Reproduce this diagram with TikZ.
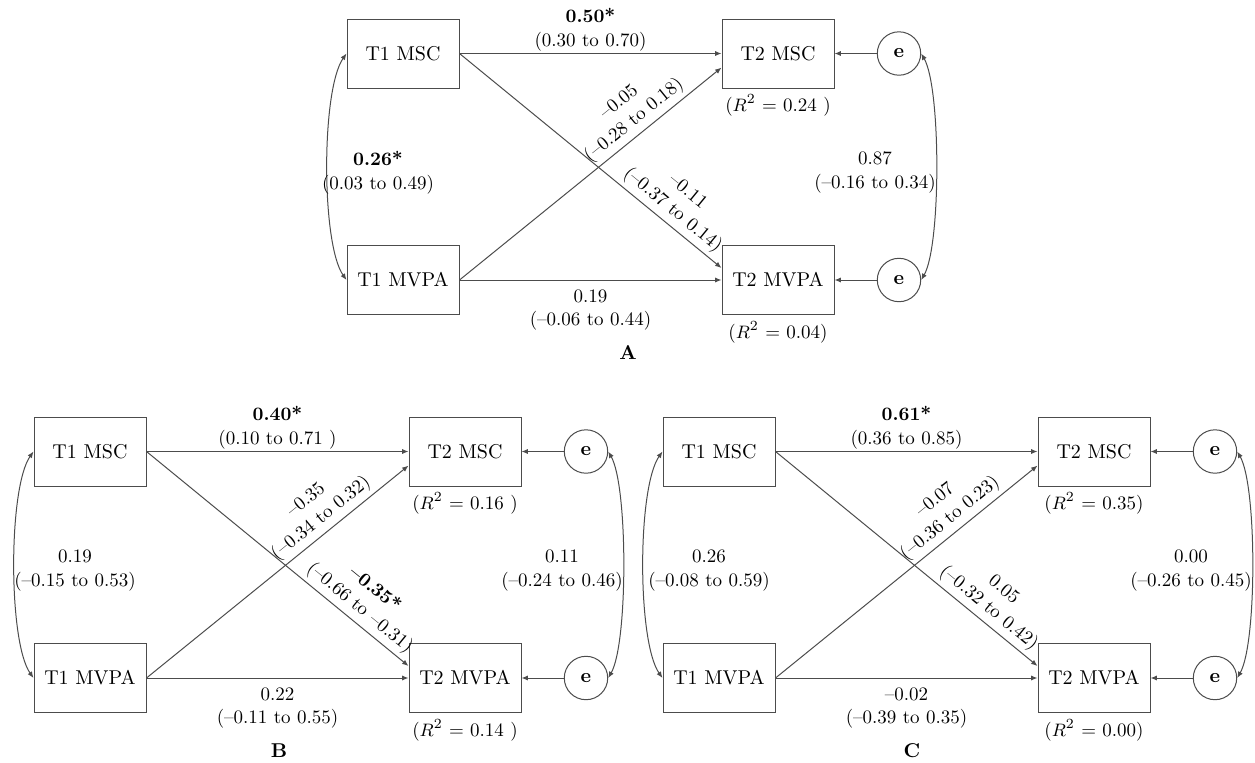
\documentclass[tikz,border=0pt]{standalone}
\usepackage{tikz}
\usetikzlibrary{positioning,arrows.meta}
\definecolor{linegray}{gray}{0.3}

\begin{document}
\begin{tikzpicture}[x=0.5pt, y=0.5pt,
  var/.style={draw=linegray, line width=0.5pt, minimum width=56pt, minimum height=34.5pt, inner sep=0pt, font=\fontsize{10}{12}\selectfont},
  err/.style={draw=linegray, line width=0.5pt, circle, minimum size=21.7pt, inner sep=0pt, font=\bfseries\fontsize{10}{12}\selectfont},
  arr/.style={-{Latex[length=3.2pt,width=2.6pt]}, draw=linegray, line width=0.5pt},
  cov/.style={{Latex[length=3.2pt,width=2.6pt]}-{Latex[length=3.2pt,width=2.6pt]}, draw=linegray, line width=0.5pt},
  lab/.style={font=\fontsize{9.5}{11.75}\selectfont, align=center, inner sep=0pt},
  rsq/.style={font=\fontsize{9.5}{12}\selectfont, inner sep=0pt},
  tag/.style={font=\bfseries\fontsize{10}{12}\selectfont}
]
\useasboundingbox (0,0) rectangle (1255,-762);

% panel A
\begin{scope}[shift={(403,-53.5)}]
\node[var] (amsc1) at (0,0) {T1 MSC};
\node[var] (amvpa1) at (0,-226.5) {T1 MVPA};
\node[var] (amsc2) at (375,0) {T2 MSC};
\node[var] (amvpa2) at (375,-226.5) {T2 MVPA};
\node[err] (ae1) at (496,0) {e};
\node[err] (ae2) at (496,-226.5) {e};
\node[rsq, below=3pt of amsc2] (ar1) {($R^2$ = 0.24 )};
\node[rsq, below=3pt of amvpa2] (ar2) {($R^2$ = 0.04)};

\draw[arr] (amsc1) -- node[lab, above=1pt] (alab1) {\textbf{0.50*}\\(0.30 to 0.70)} (amsc2);
\draw[arr] (amvpa1) -- node[lab, below=4.5pt] (alab2) {0.19\\(–0.06 to 0.44)} (amvpa2);
\draw[arr] (amvpa1.east) -- node[lab, sloped, pos=0.7, above=2pt] (alab3) {–0.05\\(–0.28 to 0.18)} (amsc2.194);
\draw[arr] (amsc1.east) -- node[lab, sloped, pos=0.78, above=2pt] (alab4) {–0.11\\(–0.37 to 0.14)} (amvpa2.168);
\draw[arr] (ae1) -- (amsc2);
\draw[arr] (ae2) -- (amvpa2);
\draw[cov] (amsc1.west) to[out=235, in=125, looseness=0.5] (amvpa1.west);
\draw[cov] (ae1.east) to[out=-60, in=60, looseness=0.45] (ae2.east);

\node[lab] (acov1) at (-25,-119) {\textbf{0.26*}\\(0.03 to 0.49)};
\node[lab] (acov2) at (472,-119) {0.87\\(–0.16 to 0.34)};
\node[tag] (atag) at (225,-299) {A};
\end{scope}

% panel B
\begin{scope}[shift={(90,-451.5)}]
\node[var] (bmsc1) at (0,0) {T1 MSC};
\node[var] (bmvpa1) at (0,-226.5) {T1 MVPA};
\node[var] (bmsc2) at (375,0) {T2 MSC};
\node[var] (bmvpa2) at (375,-226.5) {T2 MVPA};
\node[err] (be1) at (496,0) {e};
\node[err] (be2) at (496,-226.5) {e};
\node[rsq, below=3pt of bmsc2] (br1) {($R^2$ = 0.16 )};
\node[rsq, below=3pt of bmvpa2] (br2) {($R^2$ = 0.14 )};

\draw[arr] (bmsc1) -- node[lab, above=1pt] (blab1) {\textbf{0.40*}\\(0.10 to 0.71 )} (bmsc2);
\draw[arr] (bmvpa1) -- node[lab, below=4.5pt] (blab2) {0.22\\(–0.11 to 0.55)} (bmvpa2);
\draw[arr] (bmvpa1.east) -- node[lab, sloped, pos=0.7, above=2pt] (blab3) {–0.35\\(–0.34 to 0.32)} (bmsc2.194);
\draw[arr] (bmsc1.east) -- node[lab, sloped, pos=0.78, above=2pt] (blab4) {\textbf{–0.35*}\\(–0.66 to –0.31)} (bmvpa2.168);
\draw[arr] (be1) -- (bmsc2);
\draw[arr] (be2) -- (bmvpa2);
\draw[cov] (bmsc1.west) to[out=235, in=125, looseness=0.5] (bmvpa1.west);
\draw[cov] (be1.east) to[out=-60, in=60, looseness=0.45] (be2.east);

\node[lab] (bcov1) at (-15,-119) {0.19\\(–0.15 to 0.53)};
\node[lab] (bcov2) at (472,-119) {0.11\\(–0.24 to 0.46)};
\node[tag] (btag) at (189,-299) {B};
\end{scope}

% panel C
\begin{scope}[shift={(719,-451.5)}]
\node[var] (cmsc1) at (0,0) {T1 MSC};
\node[var] (cmvpa1) at (0,-226.5) {T1 MVPA};
\node[var] (cmsc2) at (375,0) {T2 MSC};
\node[var] (cmvpa2) at (375,-226.5) {T2 MVPA};
\node[err] (ce1) at (496,0) {e};
\node[err] (ce2) at (496,-226.5) {e};
\node[rsq, below=3pt of cmsc2] (cr1) {($R^2$ = 0.35)};
\node[rsq, below=3pt of cmvpa2] (cr2) {($R^2$ = 0.00)};

\draw[arr] (cmsc1) -- node[lab, above=1pt] (clab1) {\textbf{0.61*}\\(0.36 to 0.85)} (cmsc2);
\draw[arr] (cmvpa1) -- node[lab, below=4.5pt] (clab2) {–0.02\\(–0.39 to 0.35)} (cmvpa2);
\draw[arr] (cmvpa1.east) -- node[lab, sloped, pos=0.7, above=2pt] (clab3) {–0.07\\(–0.36 to 0.23)} (cmsc2.194);
\draw[arr] (cmsc1.east) -- node[lab, sloped, pos=0.78, above=2pt] (clab4) {0.05\\(–0.32 to 0.42)} (cmvpa2.168);
\draw[arr] (ce1) -- (cmsc2);
\draw[arr] (ce2) -- (cmvpa2);
\draw[cov] (cmsc1.west) to[out=235, in=125, looseness=0.5] (cmvpa1.west);
\draw[cov] (ce1.east) to[out=-60, in=60, looseness=0.45] (ce2.east);

\node[lab] (ccov1) at (-10,-119) {0.26\\(–0.08 to 0.59)};
\node[lab] (ccov2) at (472,-119) {0.00\\(–0.26 to 0.45)};
\node[tag] (ctag) at (193,-299) {C};
\end{scope}
\end{tikzpicture}
\end{document}
